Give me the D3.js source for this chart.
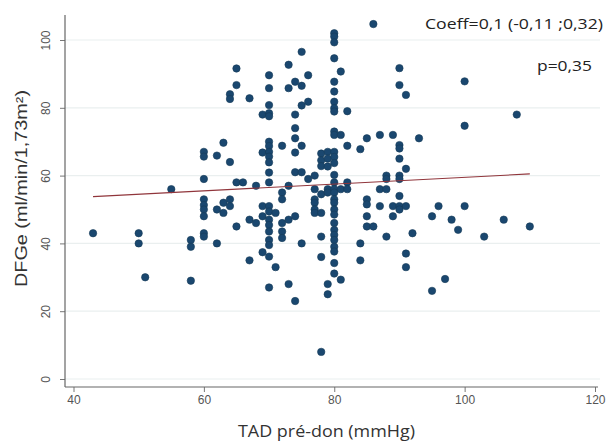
<!DOCTYPE html>
<html>
<head>
<meta charset="utf-8">
<script src="https://cdn.jsdelivr.net/npm/d3@7"></script>
<style>
  body { margin: 0; background: #fff; }
  svg { display: block; }
</style>
</head>
<body>
<svg id="chart" width="613" height="443"></svg>
<script>
// points, one x list and one y list per column of TAD
var tad = [
  43,
  50, 50,
  51,
  55,
  58, 58, 58,
  60, 60, 60, 60, 60, 60, 60, 60, 60,
  62, 62, 62,
  63, 63, 63,
  64, 64, 64, 64, 64,
  65, 65, 65, 65,
  66,
  67, 67, 67,
  68, 68,
  69, 69, 69, 69, 69,
  70, 70, 70, 70, 70, 70, 70, 70, 70, 70, 70, 70, 70, 70, 70, 70, 70, 70, 70, 70, 70,
  71, 71,
  72, 72, 72, 72, 72, 72,
  73, 73, 73, 73, 73,
  74, 74, 74, 74, 74, 74, 74, 74,
  75, 75, 75, 75, 75, 75,
  76, 76, 76,
  77, 77, 77, 77, 77, 77,
  78, 78, 78, 78, 78, 78, 78, 78,
  79, 79, 79, 79, 79, 79, 79,
  80, 80, 80, 80, 80, 80, 80, 80, 80, 80, 80, 80, 80, 80, 80,
  80, 80, 80, 80, 80, 80, 80, 80, 80, 80, 80, 80, 80, 80, 80,
  81, 81, 81, 81,
  82, 82, 82, 82,
  84, 84, 84,
  85, 85, 85, 85, 85,
  86, 86,
  87, 87, 87,
  88, 88, 88, 88,
  89, 89, 89,
  90, 90, 90, 90, 90, 90, 90, 90, 90, 90,
  91, 91, 91, 91, 91,
  92,
  93,
  95, 95,
  96,
  97,
  98,
  99,
  100, 100, 100,
  103,
  106,
  108,
  110
];
var dfge = [
  43,
  43, 40,
  30,
  56,
  41, 39, 29,
  67, 65.6, 59, 53, 51.3, 50, 48, 43, 42,
  65.9, 50, 40,
  69.7, 52, 49,
  84, 82.6, 64, 53, 51,
  91.6, 86.7, 58, 45,
  58,
  82.8, 47, 35,
  57, 46,
  78, 66.8, 51, 48, 37.4,
  89.6, 85.8, 80.8, 78.4, 77.5, 70, 68.7, 67, 65.6, 63.9, 60.9, 58, 51, 49.4, 47, 45.4, 43.5, 41, 39.5, 36.1, 27,
  49, 33,
  68.8, 55, 53, 46, 43.5, 41.6,
  92.7, 85.8, 57, 47, 28,
  87.7, 78, 74, 71, 66.8, 61, 48, 23,
  96.5, 86.5, 80.7, 68.8, 61, 40,
  89.6, 81.8, 59,
  60, 56, 53, 52, 50, 49,
  66.5, 64.5, 62.8, 54.5, 49, 42, 36, 8,
  67, 65, 62.7, 56, 55, 28, 25,
  102, 101, 99.3, 94.6, 87.7, 84.8, 81.8, 79.9, 78.9, 73, 72, 67, 65.5, 63.7, 60.2,
  58, 56, 55, 53, 52, 50, 48.5, 46, 44, 42.5, 41, 39, 37.6, 34.2, 31.1,
  90.7, 72, 56, 29.3,
  79, 68.8, 58, 56,
  67.8, 40, 35,
  71, 53, 51.5, 48, 45,
  104.7, 45,
  72, 56, 51,
  60, 59, 56, 42,
  72, 51, 48,
  91.7, 86.7, 69, 68, 65, 60, 59, 54, 51, 50,
  83.8, 62, 51, 37, 33,
  43,
  71,
  48, 26,
  51,
  29.5,
  47,
  44,
  87.8, 74.7, 51,
  42,
  47,
  78,
  45
];

// fitted line (regress), ends at the min and max of TAD
var fitX = [43, 110];
var fitIntercept = 49.5;
var fitSlope = 0.1;

var xTicks = [40, 60, 80, 100, 120];
var yTicks = [0, 20, 40, 60, 80, 100];

var xTitle = "TAD pré-don (mmHg)";
var yTitle = "DFGe (ml/min/1,73m²)";
var coeffText = "Coeff=0,1 (-0,11 ;0,32)";
var pText = "p=0,35";

var svg = d3.select("#chart");

var x = d3.scaleLinear().domain([40, 120]).range([73.5, 595]);
var y = d3.scaleLinear().domain([0, 100]).range([379, 40]);

var axisX0 = 65, axisY0 = 387;

// gridlines
svg.append("g")
    .selectAll("line")
    .data(yTicks)
    .enter()
    .append("line")
    .attr("x1", axisX0)
    .attr("x2", 600)
    .attr("y1", function(d){ return y(d); })
    .attr("y2", function(d){ return y(d); })
    .attr("stroke", "#eaefef")
    .attr("stroke-width", 1.2);

// y axis
var gy = svg.append("g")
    .attr("transform", "translate(" + axisX0 + ",0)")
    .call(d3.axisLeft(y).tickValues(yTicks).tickSize(5).tickFormat(d3.format("d")));
gy.select(".domain").remove();
gy.selectAll(".tick line").attr("stroke", "#777");
gy.selectAll(".tick text")
    .attr("x", null)
    .attr("dy", null)
    .attr("transform", "translate(-15,0) rotate(-90)")
    .attr("text-anchor", "middle")
    .attr("fill", "#555")
    .style("font-family", "'Liberation Sans', Arial, sans-serif")
    .style("font-size", "12px");
gy.append("line")
    .attr("x1", 0).attr("x2", 0)
    .attr("y1", 15).attr("y2", axisY0)
    .attr("stroke", "#666")
    .attr("stroke-width", 1.2);

// x axis
var gx = svg.append("g")
    .attr("transform", "translate(0," + axisY0 + ")")
    .call(d3.axisBottom(x).tickValues(xTicks).tickSize(5).tickFormat(d3.format("d")));
gx.select(".domain").remove();
gx.selectAll(".tick line").attr("stroke", "#777");
gx.selectAll(".tick text")
    .attr("fill", "#555")
    .style("font-family", "'Liberation Sans', Arial, sans-serif")
    .style("font-size", "12px");
gx.append("line")
    .attr("x1", axisX0).attr("x2", 598)
    .attr("y1", 0).attr("y2", 0)
    .attr("stroke", "#666")
    .attr("stroke-width", 1.2);

// points
svg.append("g")
    .selectAll("circle")
    .data(tad)
    .enter()
    .append("circle")
    .attr("cx", function(d){ return x(d); })
    .attr("cy", function(d, i){ return y(dfge[i]); })
    .attr("r", 3.7)
    .attr("fill", "#1a476f")
    .attr("stroke", "#163a58")
    .attr("stroke-width", 0.6);

// fitted line
svg.append("line")
    .attr("x1", x(fitX[0]))
    .attr("x2", x(fitX[1]))
    .attr("y1", y(fitIntercept + fitSlope * fitX[0]))
    .attr("y2", y(fitIntercept + fitSlope * fitX[1]))
    .attr("stroke", "#90353b")
    .attr("stroke-width", 1.1);

// titles (the reference is stretched sideways, so widths are pinned)
svg.append("text")
    .attr("x", 238)
    .attr("y", 437)
    .attr("textLength", 177)
    .attr("lengthAdjust", "spacingAndGlyphs")
    .attr("fill", "#333")
    .style("font-family", "'Open Sans', sans-serif")
    .style("font-size", "16px")
    .text(xTitle);

svg.append("text")
    .attr("transform", "translate(27,287) rotate(-90)")
    .attr("textLength", 197)
    .attr("lengthAdjust", "spacingAndGlyphs")
    .attr("fill", "#333")
    .style("font-family", "'Liberation Sans', Arial, sans-serif")
    .style("font-size", "16px")
    .text(yTitle);

// annotations
svg.append("text")
    .attr("x", 425)
    .attr("y", 29)
    .attr("textLength", 178)
    .attr("lengthAdjust", "spacingAndGlyphs")
    .attr("fill", "#222")
    .style("font-family", "'Open Sans', sans-serif")
    .style("font-size", "14px")
    .text(coeffText);

svg.append("text")
    .attr("x", 537)
    .attr("y", 71)
    .attr("textLength", 55)
    .attr("lengthAdjust", "spacingAndGlyphs")
    .attr("fill", "#222")
    .style("font-family", "'Open Sans', sans-serif")
    .style("font-size", "14px")
    .text(pText);
</script>
</body>
</html>
